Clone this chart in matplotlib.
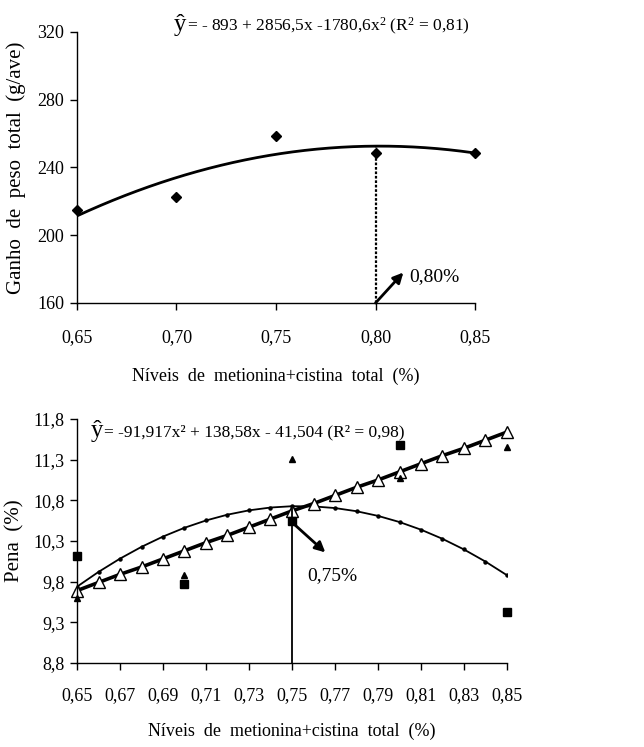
import numpy as np
import matplotlib
matplotlib.use("Agg")
import matplotlib.pyplot as plt

plt.rcParams["font.family"] = ["Liberation Serif", "DejaVu Serif"]
plt.rcParams["mathtext.fontset"] = "custom"
plt.rcParams["mathtext.rm"] = "Liberation Serif"
plt.rcParams["mathtext.it"] = "Liberation Serif:italic"

# --- top panel: ganho de peso ---
levels_top = [0.65, 0.70, 0.75, 0.80, 0.85]
gain = [215.0, 222.8, 258.6, 248.4, 248.4]
gain_coef = [-1780.6, 2856.5, -893.0]   # a x^2 + b x + c
gain_opt = 0.80
top_xticks = [0.65, 0.70, 0.75, 0.80, 0.85]
top_yticks = [160, 200, 240, 280, 320]

# --- bottom panel: pena ---
levels_bot = [0.65, 0.70, 0.75, 0.80, 0.85]
pena_sq = [10.11, 9.77, 10.54, 11.48, 9.43]
pena_tri = [9.60, 9.88, 11.31, 11.07, 11.45]
line_x = [0.65, 0.66, 0.67, 0.68, 0.69, 0.70, 0.71, 0.72, 0.73, 0.74, 0.75,
          0.76, 0.77, 0.78, 0.79, 0.80, 0.81, 0.82, 0.83, 0.84, 0.85]
line_y = [9.69, 9.79, 9.89, 9.98, 10.08, 10.18, 10.28, 10.37, 10.47, 10.57, 10.67,
          10.76, 10.86, 10.96, 11.05, 11.15, 11.25, 11.35, 11.44, 11.54, 11.64]
pena_coef = [-91.917, 138.58, -41.504]
pena_opt = 0.75
bot_xticks = [0.65, 0.67, 0.69, 0.71, 0.73, 0.75, 0.77, 0.79, 0.81, 0.83, 0.85]
bot_yticks = [8.8, 9.3, 9.8, 10.3, 10.8, 11.3, 11.8]

W, H = 644, 747
fig = plt.figure(figsize=(W / 100, H / 100), dpi=100)


def px_axes(l, t, r, b):
    return fig.add_axes([l / W, 1 - b / H, (r - l) / W, (b - t) / H])


def px_text(x, y, s, **kw):
    return fig.text(x / W, 1 - y / H, s, **kw)


def style(ax):
    for s in ("top", "right"):
        ax.spines[s].set_visible(False)
    for s in ("left", "bottom"):
        ax.spines[s].set_linewidth(1.0)
    ax.tick_params(direction="out", length=5, width=1.0, labelsize=13, pad=4)


def comma(v, nd):
    return f"{v:.{nd}f}".replace(".", ",")


# top
ax1 = px_axes(77, 32, 475, 303)
style(ax1)
xs = np.linspace(0.65, 0.85, 200)
ax1.plot(xs, np.polyval(gain_coef, xs), color="black", lw=2.0)
ax1.plot(levels_top, gain, "D", color="black", ms=5, clip_on=False)
ax1.plot([gain_opt, gain_opt], [160, np.polyval(gain_coef, gain_opt)],
         color="black", lw=1.6, ls=(0, (1.2, 0.8)))
ax1.annotate("", xy=(0.814, 178), xytext=(gain_opt, 160),
             arrowprops=dict(arrowstyle="-|>", color="black", lw=2.0,
                             mutation_scale=15, shrinkA=0, shrinkB=0))
ax1.text(0.817, 175.5, "0,80%", fontsize=14, va="center", ha="left")
ax1.set_xlim(0.65, 0.85)
ax1.set_ylim(160, 320)
ax1.set_xticks(top_xticks)
ax1.set_xticklabels([comma(v, 2) for v in top_xticks])
ax1.tick_params(axis="x", pad=14)
ax1.set_yticks(top_yticks)
ax1.set_ylabel("Ganho  de  peso  total  (g/ave)", fontsize=15, labelpad=8)
ax1.set_xlabel("Níveis  de  metionina+cistina  total  (%)", fontsize=13, labelpad=15)
px_text(180, 25, "ŷ", fontsize=18, ha="center", va="center")
px_text(187, 26, "= - 893 + 2856,5x -1780,6x$^2$ (R$^2$ = 0,81)",
        fontsize=12.5, ha="left", va="center")

# bottom
ax2 = px_axes(77, 419, 507, 663)
style(ax2)
lx = np.array(line_x)
ax2.plot(lx, np.polyval(pena_coef, lx), color="black", lw=1.3,
         marker="o", ms=2.2)
ax2.plot(line_x, line_y, color="black", lw=2.6, marker="^", ms=8,
         mfc="white", mec="black", mew=1.0, clip_on=False)
ax2.plot(levels_bot, pena_sq, "s", color="black", ms=5.5, clip_on=False)
ax2.plot(levels_bot, pena_tri, "^", color="black", ms=5, clip_on=False)
ax2.plot([pena_opt, pena_opt], [8.8, np.polyval(pena_coef, pena_opt)],
         color="black", lw=1.3)
ax2.annotate("", xy=(0.7655, 10.16), xytext=(pena_opt, 10.53),
             arrowprops=dict(arrowstyle="-|>", color="black", lw=2.0,
                             mutation_scale=15, shrinkA=0, shrinkB=0))
ax2.text(0.757, 9.87, "0,75%", fontsize=14, va="center", ha="left")
ax2.set_xlim(0.65, 0.85)
ax2.set_ylim(8.8, 11.8)
ax2.set_xticks(bot_xticks)
ax2.set_xticklabels([comma(v, 2) for v in bot_xticks])
ax2.tick_params(axis="x", pad=12)
ax2.set_yticks(bot_yticks)
ax2.set_yticklabels([comma(v, 1) for v in bot_yticks])
ax2.set_ylabel("Pena  (%)", fontsize=15, labelpad=6)
ax2.set_xlabel("Níveis  de  metionina+cistina  total  (%)", fontsize=13, labelpad=14)
px_text(97, 431, "ŷ", fontsize=18, ha="center", va="center")
px_text(104, 432, "= -91,917x² + 138,58x - 41,504 (R² = 0,98)",
        fontsize=12.5, ha="left", va="center")

fig.savefig("out.png", dpi=100)
